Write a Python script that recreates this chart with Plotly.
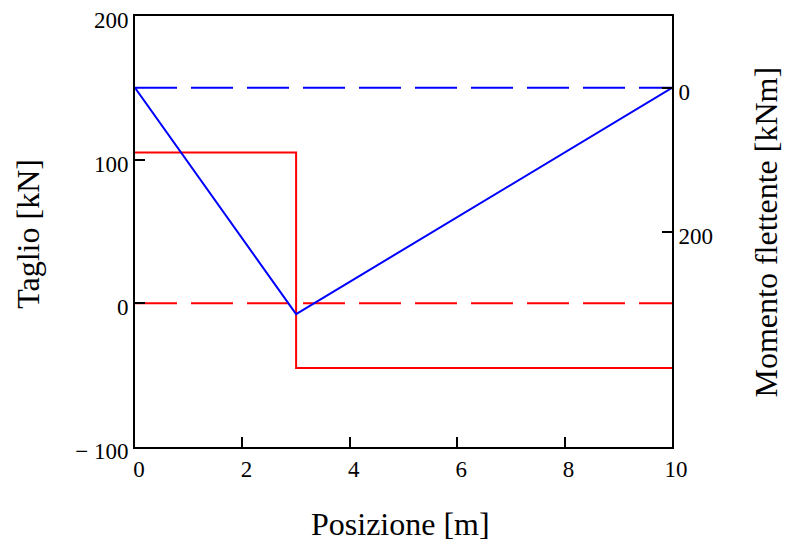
import plotly.graph_objects as go

# Data
x_shear = [0, 3, 3, 10]
shear = [105, 105, -45, -45]
x_moment = [0, 3, 10]
moment = [0, 315, 0]
x_zero = [0, 10]
zero = [0, 0]

x_ticks = [0, 2, 4, 6, 8, 10]
y_ticks = [-100, 0, 100, 200]
y_ticktext = ["\u2212 100", "0", "100", "200"]
y2_ticks = [0, 200]

FONT = "Liberation Serif"
RED = "#ff0000"
BLUE = "#0000ff"

fig = go.Figure()
fig.add_trace(go.Scatter(x=x_zero, y=zero, mode="lines",
                         line=dict(color=RED, width=2, dash="42px,14px"),
                         hoverinfo="skip", showlegend=False))
fig.add_trace(go.Scatter(x=x_shear, y=shear, mode="lines",
                         line=dict(color=RED, width=2), showlegend=False))
fig.add_trace(go.Scatter(x=x_zero, y=zero, mode="lines", yaxis="y2",
                         line=dict(color=BLUE, width=2, dash="42px,14px"),
                         hoverinfo="skip", showlegend=False))
fig.add_trace(go.Scatter(x=x_moment, y=moment, mode="lines", yaxis="y2",
                         line=dict(color=BLUE, width=2), showlegend=False))

axis_common = dict(showgrid=False, zeroline=False, showline=True,
                   linecolor="black", linewidth=2, ticks="inside",
                   ticklen=10, tickwidth=2, tickcolor="black", automargin=False,
                   tickfont=dict(family=FONT, size=23, color="black"))

fig.update_layout(
    width=786, height=548,
    margin=dict(l=135, r=114, t=16, b=101),
    paper_bgcolor="white", plot_bgcolor="white",
    font=dict(family=FONT, color="black"),
    xaxis=dict(range=[0, 10], tickvals=x_ticks, mirror=True, ticklabelshift=4,
               **axis_common),
    yaxis=dict(range=[-100, 200], tickvals=y_ticks, ticktext=y_ticktext,
               ticklabelshift=4, **axis_common),
    yaxis2=dict(range=[500, -100], tickvals=y2_ticks, overlaying="y",
                side="right", ticklabelshift=-4, **axis_common),
    annotations=[
        dict(text="Posizione [m]", xref="paper", yref="paper", x=0.495, y=-0.178,
             xanchor="center", yanchor="middle", showarrow=False,
             font=dict(family=FONT, size=32)),
        dict(text="Taglio [kN]", xref="paper", yref="paper", x=-0.199, y=0.495,
             xanchor="center", yanchor="middle", showarrow=False, textangle=-90,
             font=dict(family=FONT, size=32)),
        dict(text="Momento flettente [kNm]", xref="paper", yref="paper", x=1.175, y=0.5,
             xanchor="center", yanchor="middle", showarrow=False, textangle=-90,
             font=dict(family=FONT, size=32)),
    ],
)

fig.write_html("out.html", config={"displayModeBar": False},
               post_script="document.body.style.margin='0';document.body.style.padding='0';")
